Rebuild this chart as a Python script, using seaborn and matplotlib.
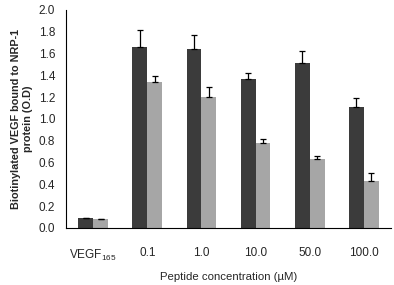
import matplotlib
matplotlib.use('Agg')
import matplotlib.pyplot as plt
import numpy as np
import pandas as pd
import seaborn as sns

# data
categories = ['VEGF$_{165}$', '0.1', '1.0', '10.0', '50.0', '100.0']
series_names = ['A', 'B']
dark_vals = [0.09, 1.66, 1.64, 1.37, 1.51, 1.11]
dark_err = [0.005, 0.16, 0.13, 0.055, 0.11, 0.08]
light_vals = [0.083, 1.34, 1.20, 0.777, 0.63, 0.43]
light_err = [0.004, 0.05, 0.09, 0.04, 0.035, 0.07]
colors = ['#3b3b3b', '#a6a6a6']

df = pd.DataFrame({
    'cat': categories * 2,
    'series': [series_names[0]] * 6 + [series_names[1]] * 6,
    'val': dark_vals + light_vals,
})

sns.set_style('white')
plt.rcParams['font.family'] = ['Liberation Sans', 'DejaVu Sans']
plt.rcParams['mathtext.fontset'] = 'custom'
plt.rcParams['mathtext.rm'] = 'Liberation Sans'

fig, ax = plt.subplots(figsize=(3.94, 2.85), dpi=100)
fig.subplots_adjust(left=0.168, right=0.992, top=0.965, bottom=0.2)

sns.barplot(data=df, x='cat', y='val', hue='series', palette=colors,
            width=0.55, errorbar=None, saturation=1, legend=False,
            linewidth=0, gap=0, ax=ax)

# upward-only error bars at bar centres
bars = ax.patches
errs = dark_err + light_err
vals = dark_vals + light_vals
for b, v, e in zip(bars, vals, errs):
    xc = b.get_x() + b.get_width() / 2
    ax.errorbar(xc, v, yerr=[[0], [e]], fmt='none', ecolor='black',
                elinewidth=0.9, capsize=2.3, capthick=0.9)

ax.set_xlim(-0.5, 5.5)
ax.set_ylim(0, 2.0)
ax.set_yticks(np.arange(0, 2.01, 0.2))
ax.set_yticklabels([f'{t:.1f}' for t in np.arange(0, 2.01, 0.2)], fontsize=8.5)
ax.set_xticks(range(6))
ax.set_xticklabels(categories, fontsize=8.5)
ax.set_xticks(np.arange(-0.5, 5.6, 1), minor=True)
ax.tick_params(axis='x', which='major', length=0, pad=14)
ax.tick_params(axis='x', which='minor', length=3, width=0.8, direction='out')
ax.tick_params(axis='y', length=3, width=0.8, direction='out', pad=5)

for s in ['top', 'right']:
    ax.spines[s].set_visible(False)
for s in ['left', 'bottom']:
    ax.spines[s].set_linewidth(0.8)
    ax.spines[s].set_color('black')

ax.set_xlabel('Peptide concentration (µM)', fontsize=8.2, labelpad=7)
ax.set_ylabel('Biotinylated VEGF bound to NRP-1\nprotein (O.D)', fontsize=7.8,
              fontweight='bold', labelpad=4)

fig.savefig('out.png', dpi=100)
